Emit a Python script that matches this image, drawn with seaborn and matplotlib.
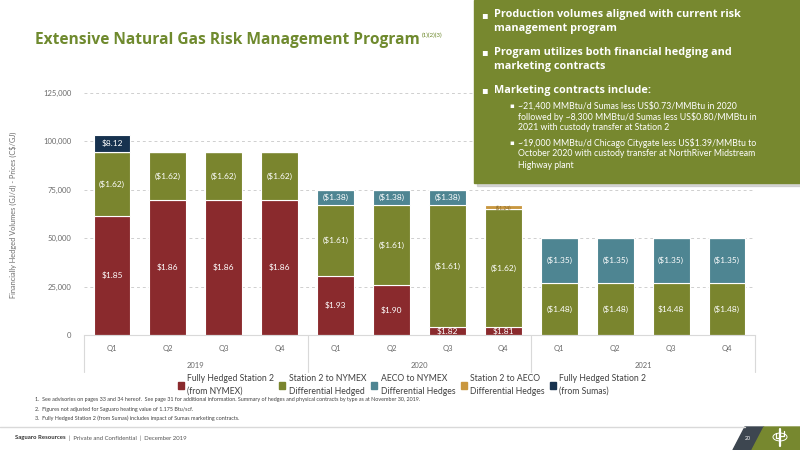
import numpy as np
import pandas as pd
import seaborn as sns
import matplotlib.pyplot as plt
from matplotlib.patches import Rectangle, Polygon, Circle

# ==============================
# DATA
# ==============================

years = ["2019", "2020", "2021"]
quarters = ["Q1", "Q2", "Q3", "Q4"]
periods = [f"{y} {q}" for y in years for q in quarters]

# volumes (GJ/d), stacked bottom -> top
station2_nymex = [61500, 69500, 69500, 69500, 30500, 25700, 4300, 4300, 0, 0, 0, 0]
station2_nymex_diff = [33000, 25000, 25000, 25000, 36500, 41300, 62700, 60600, 27000, 27000, 27000, 27000]
aeco_nymex_diff = [0, 0, 0, 0, 8000, 8000, 8000, 0, 23000, 23000, 23000, 23000]
station2_aeco_diff = [0, 0, 0, 0, 0, 0, 0, 2200, 0, 0, 0, 0]
station2_sumas = [9000, 0, 0, 0, 0, 0, 0, 0, 0, 0, 0, 0]

# price labels (C$/GJ)
lbl_station2_nymex = ["$1.85", "$1.86", "$1.86", "$1.86", "$1.93", "$1.90", "$1.82", "$1.81", "", "", "", ""]
lbl_station2_nymex_diff = ["($1.62)", "($1.62)", "($1.62)", "($1.62)", "($1.61)", "($1.61)", "($1.61)", "($1.62)",
                           "($1.48)", "($1.48)", "$14.48", "($1.48)"]
lbl_aeco_nymex_diff = ["", "", "", "", "($1.38)", "($1.38)", "($1.38)", "", "($1.35)", "($1.35)", "($1.35)", "($1.35)"]
lbl_station2_aeco_diff = ["", "", "", "", "", "", "", "($1.24)", "", "", "", ""]
lbl_station2_sumas = ["$8.12", "", "", "", "", "", "", "", "", "", "", ""]

legend_labels = ["Fully Hedged Station 2\n(from NYMEX)",
                 "Station 2 to NYMEX\nDifferential Hedged",
                 "AECO to NYMEX\nDifferential Hedges",
                 "Station 2 to AECO\nDifferential Hedges",
                 "Fully Hedged Station 2\n(from Sumas)"]

df = pd.DataFrame({
    "period": periods,
    "s2_nymex": station2_nymex,
    "s2_nymex_diff": station2_nymex_diff,
    "aeco_nymex_diff": aeco_nymex_diff,
    "s2_aeco_diff": station2_aeco_diff,
    "s2_sumas": station2_sumas,
})

RED = "#8A2A2D"
GREEN = "#7A852E"
TEAL = "#4E8592"
GOLD = "#C9973F"
NAVY = "#17324F"
BOX = "#77882F"
TITLE = "#6F8A2E"
GREY = "#6b6b6b"

layers = [
    ("s2_nymex", RED, lbl_station2_nymex, "white"),
    ("s2_nymex_diff", GREEN, lbl_station2_nymex_diff, "white"),
    ("aeco_nymex_diff", TEAL, lbl_aeco_nymex_diff, "white"),
    ("s2_aeco_diff", GOLD, lbl_station2_aeco_diff, "#8a6a2a"),
    ("s2_sumas", NAVY, lbl_station2_sumas, "white"),
]

# ==============================
# THEME
# ==============================

sns.set_theme(style="white")
plt.rcParams['font.family'] = ['Lato', 'DejaVu Sans']

fig = plt.figure(figsize=(8, 4.5), dpi=100)
ax = fig.add_axes([84 / 800, 1 - 335 / 450, 671 / 800, 242 / 450])

# ==============================
# STACKED BARS
# ==============================

bottom = np.zeros(len(df))
for col, color, labels, tcol in layers:
    sns.barplot(data=df, x="period", y=col, color=color, saturation=1, width=0.66,
                bottom=bottom.copy(), errorbar=None, edgecolor="white", linewidth=0.8, ax=ax)
    for i, (h, lab) in enumerate(zip(df[col], labels)):
        if lab:
            fs = 3.6 if h < 3000 else 6
            ax.text(i, bottom[i] + h / 2, lab, ha="center", va="center",
                    color=tcol, fontsize=fs)
    bottom += df[col].values

ax.set_ylim(0, 125000)
ax.set_xlim(-0.5, len(periods) - 0.5)
ax.set_yticks(np.arange(0, 125001, 25000))
ax.set_yticklabels([f"{v:,}" for v in range(0, 125001, 25000)], fontsize=5.5, color=GREY)
ax.set_xticks(range(len(periods)))
ax.set_xticklabels(quarters * 3, fontsize=5.5, color=GREY)
ax.tick_params(axis="both", length=0, pad=7)
ax.tick_params(axis="y", pad=9)
for y in range(25000, 125001, 25000):
    ax.axhline(y, color="#cfcfcf", linestyle=(0, (3, 3)), linewidth=0.7, zorder=0)
for s in ["top", "right", "left"]:
    ax.spines[s].set_visible(False)
ax.spines["bottom"].set_color("#d9d9d9")
ax.spines["bottom"].set_linewidth(0.8)
ax.set_xlabel("")
ax.set_ylabel("")

# year groups
for xb in [-0.5, 3.5, 7.5, 11.5]:
    ax.plot([xb, xb], [0, -0.153], transform=ax.get_xaxis_transform(), color="#d9d9d9",
            linewidth=0.8, clip_on=False)
for k, yr in enumerate(years):
    ax.text(k * 4 + 1.5, -0.124, yr, transform=ax.get_xaxis_transform(), ha="center",
            va="center", fontsize=5.5, color=GREY)

fig.text(13 / 800, 1 - 215 / 450, "Financially Hedged Volumes (GJ/d) - Prices (C$/GJ)",
         rotation=90, ha="center", va="center", fontsize=5.3, color=GREY)

# legend
handles = [Rectangle((0, 0), 1, 1, color=c) for _, c, _, _ in layers]
leg = fig.legend(handles, legend_labels, loc="center", bbox_to_anchor=(412 / 800, 1 - 385 / 450),
                 ncol=5, frameon=False, fontsize=6.2, handlelength=0.7, handleheight=0.7,
                 handletextpad=0.4, columnspacing=0.6, labelcolor="#404040")
for txt in leg.get_texts():
    txt.set_linespacing(1.55)

# ==============================
# TITLE
# ==============================

t = fig.text(35 / 800, 1 - 40 / 450, "Extensive Natural Gas Risk Management Program",
             fontsize=11.2, fontweight="bold", color=TITLE, va="center",
             family=["Open Sans", "DejaVu Sans"])
fig.canvas.draw()
bb = t.get_window_extent()
fig.text(bb.x1 / 800 + 0.002, 1 - 35 / 450, "(1)(2)(3)", fontsize=4.5, color=TITLE, va="center")

# ==============================
# GREEN BOX
# ==============================

fig.patches.append(Rectangle((477 / 800, 1 - 186 / 450), 330 / 800, 186 / 450,
                             transform=fig.transFigure, color="#bdbdbd", alpha=0.6, zorder=5))
fig.patches.append(Rectangle((474 / 800, 1 - 183 / 450), 330 / 800, 183 / 450,
                             transform=fig.transFigure, color=BOX, zorder=6))

main_bullets = [
    (15, "Production volumes aligned with current risk", True),
    (28, "management program", False),
    (52, "Program utilizes both financial hedging and", True),
    (67, "marketing contracts", False),
    (90, "Marketing contracts include:", True),
]
for y, txt, bullet in main_bullets:
    if bullet:
        fig.text(484 / 800, 1 - y / 450, "\u25aa", fontsize=7, color="white", va="center",
                 ha="center", zorder=7, family=["DejaVu Sans"])
    fig.text(494 / 800, 1 - y / 450, txt, fontsize=7.8, fontweight="bold", color="white",
             va="center", zorder=7, family=["Open Sans", "DejaVu Sans"])

sub_bullets = [
    (106, "~21,400 MMBtu/d Sumas less US$0.73/MMBtu in 2020", True),
    (117, "followed by ~8,300 MMBtu/d Sumas less US$0.80/MMBtu in", False),
    (128, "2021 with custody transfer at Station 2", False),
    (143, "~19,000 MMBtu/d Chicago Citygate less US$1.39/MMBtu to", True),
    (154, "October 2020 with custody transfer at NorthRiver Midstream", False),
    (166, "Highway plant", False),
]
for y, txt, bullet in sub_bullets:
    if bullet:
        fig.text(512 / 800, 1 - y / 450, "\u25aa", fontsize=5, color="white", va="center",
                 ha="center", zorder=7, family=["DejaVu Sans"])
    fig.text(518 / 800, 1 - y / 450, txt, fontsize=6.3, color="white", va="center", zorder=7)

# ==============================
# FOOTNOTES & FOOTER
# ==============================

notes = [
    "1.  See advisories on pages 33 and 34 hereof.  See page 31 for additional information. Summary of hedges and physical contracts by type as at November 30, 2019.",
    "2.  Figures not adjusted for Saguaro heating value of 1.175 Btu/scf.",
    "3.  Fully Hedged Station 2 (from Sumas) includes impact of Sumas marketing contracts.",
]
for k, n in enumerate(notes):
    fig.text(35 / 800, 1 - (400 + 9.3 * k) / 450, n, fontsize=3.9, color="#404040", va="center")

fig.add_artist(plt.Line2D([0, 745 / 800], [1 - 427 / 450] * 2, transform=fig.transFigure,
                          color="#d9d9d9", linewidth=1))
ft = fig.text(15 / 800, 1 - 438 / 450, "Saguaro Resources", fontsize=4.3, fontweight="bold",
              color="#333333", va="center")
fig.canvas.draw()
fb = ft.get_window_extent()
fig.text(fb.x1 / 800 + 0.004, 1 - 438 / 450, "|  Private and Confidential  |  December 2019",
         fontsize=4.3, color="#555555", va="center")

fig.patches.append(Polygon([(733 / 800, 0), (745 / 800, 23 / 450), (764 / 800, 23 / 450), (752 / 800, 0)],
                           closed=True, transform=fig.transFigure, color="#3d4650"))
fig.patches.append(Polygon([(752 / 800, 0), (764 / 800, 23 / 450), (1, 23 / 450), (1, 0)],
                           closed=True, transform=fig.transFigure, color=BOX))
fig.text(748 / 800, 1 - 438 / 450, "20", fontsize=3.8, color="white", ha="center", va="center")
fig.patches.append(Circle((780 / 800, 1 - 437 / 450), 7 / 800, transform=fig.transFigure,
                          fill=False, edgecolor="white", linewidth=0.7))
fig.add_artist(plt.Line2D([780 / 800, 780 / 800], [1 - 446 / 450, 1 - 429 / 450],
                          transform=fig.transFigure, color="white", linewidth=1.6))
fig.add_artist(plt.Line2D([776 / 800, 776 / 800, 780 / 800], [1 - 433 / 450, 1 - 438 / 450, 1 - 438 / 450],
                          transform=fig.transFigure, color="white", linewidth=0.9))
fig.add_artist(plt.Line2D([784 / 800, 784 / 800, 780 / 800], [1 - 431 / 450, 1 - 436 / 450, 1 - 436 / 450],
                          transform=fig.transFigure, color="white", linewidth=0.9))

plt.savefig("out.png", dpi=100)
plt.close()
